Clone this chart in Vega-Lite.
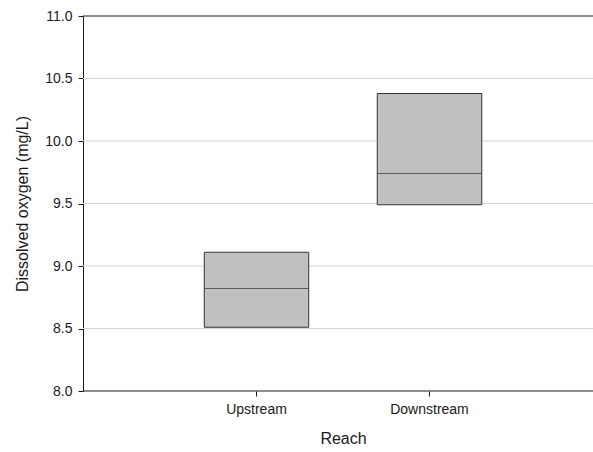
{
  "$schema": "https://vega.github.io/schema/vega-lite/v6.json",
  "width": 510,
  "height": 375,
  "autosize": "none",
  "padding": {"left": 83, "top": 16, "right": 0, "bottom": 61},
  "background": "white",
  "config": {
    "view": {"stroke": null},
    "font": "Liberation Sans",
    "axis": {"labelFont": "Liberation Sans", "titleFont": "Liberation Sans", "labelColor": "#1a1a1a", "titleColor": "#1a1a1a", "titleFontWeight": "normal"}
  },
  "data": {
    "values": [
      {"reach": "Upstream", "low": 8.51, "median": 8.82, "high": 9.11},
      {"reach": "Downstream", "low": 9.49, "median": 9.74, "high": 10.38}
    ]
  },
  "encoding": {
    "x": {
      "field": "reach",
      "type": "nominal",
      "sort": ["Upstream", "Downstream"],
      "scale": {"range": [121.25, 398.75], "paddingInner": 0.396, "paddingOuter": 0},
      "axis": {
        "title": "Reach",
        "labelAngle": 0,
        "labelFontSize": 14,
        "titleFontSize": 16,
        "tickSize": 5,
        "tickColor": "#1a1a1a",
        "labelPadding": 6,
        "titlePadding": 14,
        "domain": false,
        "grid": false
      }
    }
  },
  "layer": [
    {
      "data": {"values": [{"g": 8.5}, {"g": 9}, {"g": 9.5}, {"g": 10}, {"g": 10.5}]},
      "mark": {"type": "rule", "color": "#d4d4d4", "strokeWidth": 1},
      "encoding": {
        "x": null,
        "y": {"field": "g", "type": "quantitative"}
      }
    },
    {
      "mark": {"type": "bar", "fill": "#c0c0c0", "stroke": "#333333", "strokeWidth": 1},
      "encoding": {
        "y": {
          "field": "low",
          "type": "quantitative",
          "scale": {"domain": [8, 11], "nice": false, "zero": false},
          "axis": {
            "title": "Dissolved oxygen (mg/L)",
            "values": [8, 8.5, 9, 9.5, 10, 10.5, 11],
            "format": ".1f",
            "labelFontSize": 14,
            "titleFontSize": 16,
            "tickSize": 5,
            "tickColor": "#1a1a1a",
            "domainColor": "#1a1a1a",
            "labelPadding": 6,
            "titlePadding": 14,
            "grid": false
          }
        },
        "y2": {"field": "high"}
      }
    },
    {
      "mark": {"type": "tick", "color": "#333333", "size": 104.5, "thickness": 1},
      "encoding": {
        "y": {"field": "median", "type": "quantitative"}
      }
    },
    {
      "data": {"values": [{"v": 8}, {"v": 11}]},
      "mark": {"type": "rule", "color": "#1a1a1a", "strokeWidth": 1},
      "encoding": {
        "x": null,
        "y": {"field": "v", "type": "quantitative"}
      }
    }
  ]
}
